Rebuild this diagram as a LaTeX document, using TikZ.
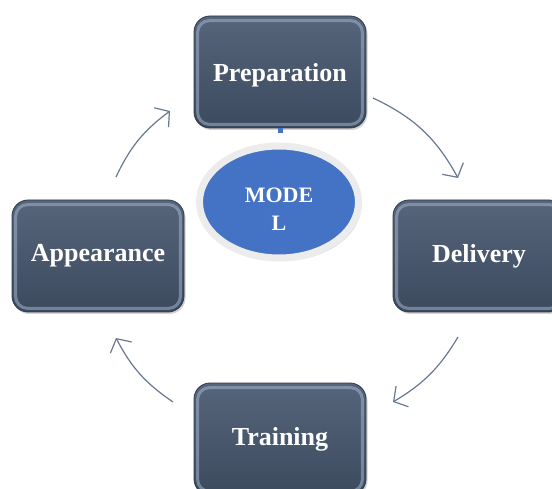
\documentclass[tikz,border=0pt]{standalone}
\usepackage{fontspec}
\setmainfont{Liberation Serif}
\usetikzlibrary{shapes.geometric,shadows,arrows.meta}
\definecolor{slatetop}{HTML}{56657B}
\definecolor{slatebot}{HTML}{3C4A5E}
\definecolor{slaterim}{HTML}{A9BBD3}
\definecolor{arrowgray}{HTML}{67788F}
\definecolor{modelblue}{HTML}{4472C4}
\definecolor{ringgray}{HTML}{ECECEC}
\tikzset{
    stepbox/.style={rectangle, rounded corners=16pt, minimum width=172pt, minimum height=112pt,
        top color=slatetop, bottom color=slatebot, draw=slatebot!80!black, line width=0.8pt,
        text=white, font=\bfseries\fontsize{26}{30}\selectfont,
        drop shadow={opacity=0.35, shadow xshift=1.5pt, shadow yshift=-2pt}},
    cycle arrow/.style={draw=arrowgray, line width=1.2pt, -{Straight Barb[length=10pt,width=24pt]}}
}

\begin{document}
\begin{tikzpicture}[x=1pt,y=1pt]
\useasboundingbox (0,0) rectangle (552,488);

\coordinate (P) at (280,416);
\coordinate (D) at (479,232);
\coordinate (T) at (280,49);
\coordinate (A) at (98,232);
\coordinate (M) at (279,286);

\node[stepbox] (prep) at (P) {\raisebox{-3pt}[\height][\depth]{Preparation}};
\node[stepbox] (deliv) at (D) {Delivery};
\node[stepbox] (train) at (T) {Training};
\node[stepbox] (appear) at (A) {Appearance};

% light rim on the boxes
\foreach \n in {prep,deliv,train,appear}
  \draw[slaterim, line width=3pt, opacity=0.5, rounded corners=12pt]
    ([shift={(4pt,4pt)}]\n.south west) rectangle ([shift={(-4pt,-5pt)}]\n.north east);

% stub under Preparation
\coordinate (stub) at ([yshift=-5pt]prep.south);
\draw[modelblue, line width=5pt] (prep.south) -- (stub);

\node[ellipse, fill=modelblue, draw=ringgray, line width=7pt, minimum width=159pt, minimum height=112pt,
      text=white, font=\bfseries\fontsize{22}{28}\selectfont,
      drop shadow={opacity=0.25, shadow xshift=3pt, shadow yshift=-3pt}] (model) at (M)
      {\raisebox{-9pt}[\height][\depth]{\begin{tabular}{@{}c@{}}MODE\\L\end{tabular}}};

% cycle arrows
\coordinate (a1s) at (373,390); \coordinate (a1e) at (458,310);
\coordinate (a2s) at (458,151); \coordinate (a2e) at (393,86);
\coordinate (a3s) at (173,86);  \coordinate (a3e) at (116,150);
\coordinate (a4s) at (116,311); \coordinate (a4e) at (170,377);

\draw[cycle arrow] (a1s) to[bend left=18] (a1e);
\draw[cycle arrow] (a2s) to[bend left=14] (a2e);
\draw[cycle arrow] (a3s) to[bend left=14] (a3e);
\draw[cycle arrow] (a4s) to[bend left=14] (a4e);

\end{tikzpicture}
\end{document}
